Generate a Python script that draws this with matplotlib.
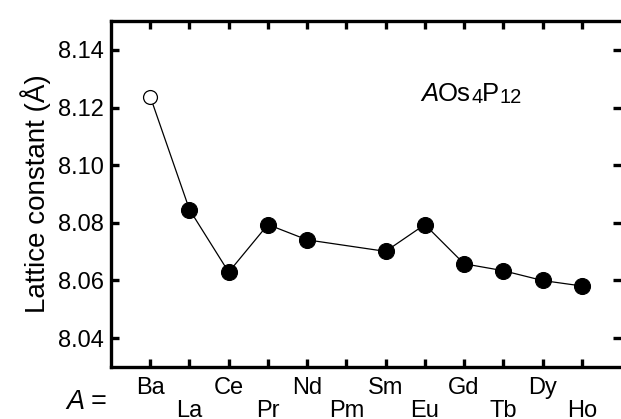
import numpy as np
import matplotlib
matplotlib.use("Agg")
import matplotlib.pyplot as plt
from matplotlib import transforms

plt.rcParams['font.family'] = ['Liberation Sans', 'DejaVu Sans']

elements = ['Ba', 'La', 'Ce', 'Pr', 'Nd', 'Pm', 'Sm', 'Eu', 'Gd', 'Tb', 'Dy', 'Ho']
lattice = [8.1238, 8.0846, 8.0629, 8.0794, 8.0741, np.nan, 8.0701, 8.0794,
           8.0658, 8.0634, 8.0600, 8.0581]
open_elements = ['Ba']
yticks = [8.04, 8.06, 8.08, 8.10, 8.12, 8.14]

fig = plt.figure(figsize=(6.21, 4.19), dpi=100)
ax = fig.add_axes([111/621, 52/419, 510/621, 346/419])

x = np.arange(len(elements))
y = np.array(lattice)
ok = ~np.isnan(y)
ax.plot(x[ok], y[ok], '-', color='black', lw=0.9, zorder=2)
is_open = np.array([e in open_elements for e in elements])
filled = ok & ~is_open
ax.plot(x[filled], y[filled], 'o', ms=11.5, mfc='black', mec='black', mew=0.8, ls='none', zorder=3)
ax.plot(x[is_open & ok], y[is_open & ok], 'o', ms=10, mfc='white', mec='black', mew=0.9, ls='none', zorder=3)

ax.set_xlim(-1, 12)
ax.set_ylim(8.03, 8.15)
ax.set_yticks(yticks)
ax.set_yticklabels([f'{v:.2f}' for v in yticks])
ax.set_xticks(x)
ax.set_xticklabels(elements)

for s in ['left', 'bottom', 'top']:
    ax.spines[s].set_linewidth(2.4)
ax.spines['right'].set_visible(False)

ax.tick_params(axis='both', direction='in', length=5.8, width=2.4,
               top=True, right=True)
ax.tick_params(axis='y', labelsize=17, pad=5)
ax.tick_params(axis='x', labelsize=17)
for i, t in enumerate(ax.xaxis.get_major_ticks()):
    t.set_pad(7 if i % 2 == 0 else 23.5)

ax.set_ylabel('Lattice constant (Å)', fontsize=20, labelpad=5)

# compound label AOs4P12 built from consecutive pieces
fig.canvas.draw()
renderer = fig.canvas.get_renderer()
H = 419.0
pieces = [('A', 18.5, 'italic', 0),
          ('Os', 18.5, 'normal', 0),
          ('4', 14.5, 'normal', -2),
          ('P', 18.5, 'normal', 0),
          ('12', 14.5, 'normal', -2)]
tr = fig.transFigure
x0, base = 421/621, (H - 101)/H
offset = 0.0
for txt, fs, st, dy in pieces:
    t_tr = transforms.offset_copy(tr, fig=fig, x=offset, y=dy, units='dots')
    t = fig.text(x0, base, txt, fontsize=fs, style=st, ha='left', va='baseline',
                 transform=t_tr)
    ext = t.get_window_extent(renderer)
    offset += ext.width

fig.text(66/621, 10/419, 'A', fontsize=19.5, style='italic', ha='left', va='baseline')
fig.text(91/621, 10/419, '=', fontsize=19.5, ha='left', va='baseline')

fig.savefig('out.png', dpi=100)
